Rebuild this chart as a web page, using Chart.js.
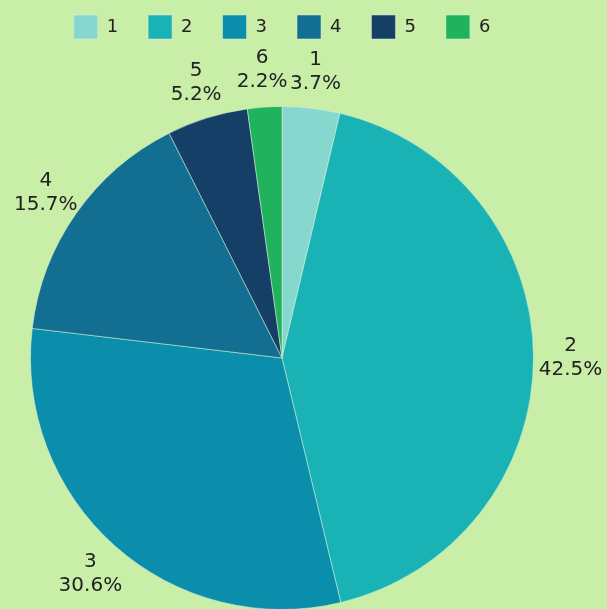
<!DOCTYPE html>
<html>
<head>
<meta charset="utf-8">
<script src="https://cdn.jsdelivr.net/npm/chart.js@4.4.1/dist/chart.umd.min.js"></script>
<style>
  html, body { margin: 0; padding: 0; background: #c8eea8; overflow: hidden; }
  #wrap { width: 607px; height: 700px; }
</style>
</head>
<body>
<div id="wrap"><canvas id="pieChart" width="607" height="700"></canvas></div>
<script>
// Datos del gráfico
const labels = ['1', '2', '3', '4', '5', '6'];
const values = [3.7, 42.5, 30.6, 15.7, 5.2, 2.2];
const colors = ['#86d8cf', '#19b3b6', '#0a8eac', '#136f91', '#163f67', '#20b25c'];

// Etiquetas exteriores (nombre + porcentaje)
const outsideLabels = {
    id: 'outsideLabels',
    afterDatasetsDraw(chart) {
        const ctx = chart.ctx;
        const meta = chart.getDatasetMeta(0);
        ctx.save();
        ctx.font = '20px "DejaVu Sans", sans-serif';
        ctx.fillStyle = '#222';
        ctx.textAlign = 'center';
        ctx.textBaseline = 'middle';
        meta.data.forEach((arc, i) => {
            const mid = (arc.startAngle + arc.endAngle) / 2;
            const d = arc.outerRadius + 37;
            const x = arc.x + Math.cos(mid) * d;
            const y = arc.y + Math.sin(mid) * d;
            ctx.fillText(labels[i], x, y - 12);
            ctx.fillText(values[i].toFixed(1) + '%', x, y + 12);
        });
        ctx.restore();
    }
};

const ctx = document.getElementById('pieChart').getContext('2d');
new Chart(ctx, {
    type: 'pie',
    data: {
        labels: labels,
        datasets: [{
            data: values,
            backgroundColor: colors,
            borderColor: 'rgba(220, 245, 220, 0.5)',
            borderWidth: 1
        }]
    },
    options: {
        responsive: false,
        animation: false,
        layout: {
            padding: { top: -15, left: 30, right: 73, bottom: 33 }
        },
        plugins: {
            legend: {
                position: 'top',
                labels: {
                    boxWidth: 24,
                    boxHeight: 24,
                    padding: 30,
                    color: '#222',
                    font: { size: 18, family: '"DejaVu Sans", sans-serif' }
                }
            },
            tooltip: { enabled: false }
        }
    },
    plugins: [outsideLabels]
});
</script>
</body>
</html>
